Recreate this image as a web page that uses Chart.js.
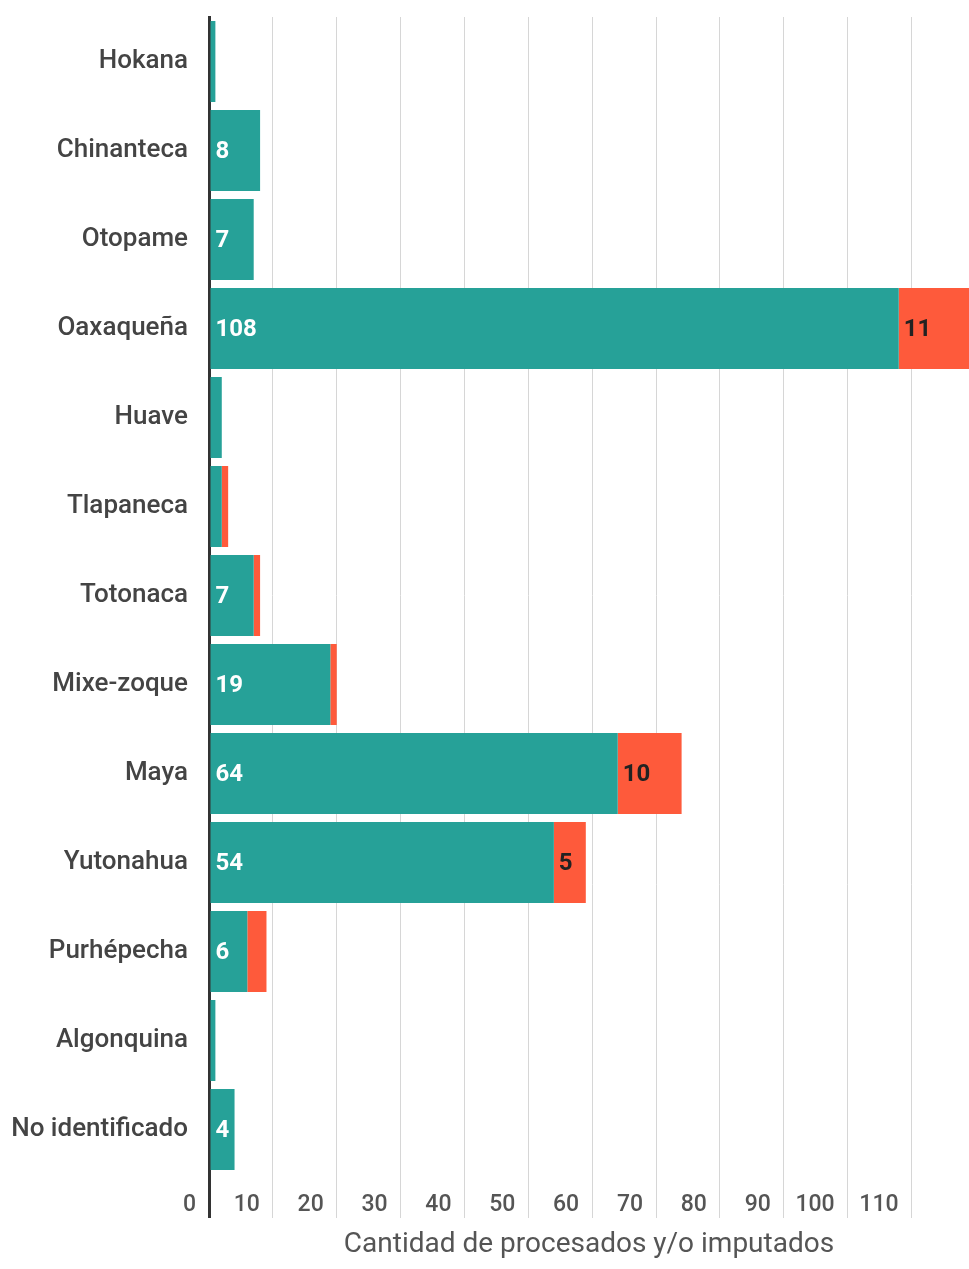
<!DOCTYPE html>
<html>
<head>
<meta charset="utf-8">
<script src="https://cdn.jsdelivr.net/npm/chart.js@4"></script>
<style>
  html, body { margin: 0; padding: 0; background: #fff; }
  #wrap { width: 969px; height: 1269px; }
</style>
</head>
<body>
<div id="wrap"><canvas id="barChart"></canvas></div>
<script>
var familias = ["Hokana", "Chinanteca", "Otopame", "Oaxaqueña", "Huave", "Tlapaneca", "Totonaca",
  "Mixe-zoque", "Maya", "Yutonahua", "Purhépecha", "Algonquina", "No identificado"];
var procesados = [1, 8, 7, 108, 2, 2, 7, 19, 64, 54, 6, 1, 4];
var imputados = [0, 0, 0, 11, 0, 1, 1, 1, 10, 5, 3, 0, 0];
var xTicks = [0, 10, 20, 30, 40, 50, 60, 70, 80, 90, 100, 110];
var xMax = 119;

var teal = "#26a198";
var red = "#fe5a3b";

// value labels at the start of each segment, only when they fit
const barLabels = {
  id: "barLabels",
  afterDatasetsDraw(chart) {
    const ctx = chart.ctx;
    ctx.save();
    ctx.font = "bold 24px Roboto";
    ctx.textBaseline = "middle";
    ctx.textAlign = "left";
    chart.data.datasets.forEach(function(ds, i) {
      chart.getDatasetMeta(i).data.forEach(function(bar, j) {
        const v = ds.data[j];
        if (!v) return;
        const txt = String(v);
        const w = Math.abs(bar.x - bar.base);
        if (w < ctx.measureText(txt).width + 8) return;
        ctx.fillStyle = i === 0 ? "#ffffff" : "#222222";
        ctx.fillText(txt, Math.min(bar.x, bar.base) + 5, bar.y + 1);
      });
    });
    ctx.restore();
  }
};

new Chart(document.getElementById("barChart"), {
  type: "bar",
  data: {
    labels: familias,
    datasets: [
      { label: "Procesados", data: procesados, backgroundColor: teal },
      { label: "Imputados", data: imputados, backgroundColor: red }
    ]
  },
  options: {
    indexAxis: "y",
    responsive: true,
    maintainAspectRatio: false,
    animation: false,
    categoryPercentage: 0.91,
    barPercentage: 1,
    layout: { padding: { top: 17, right: 0, bottom: 0, left: 0 } },
    plugins: {
      legend: { display: false },
      tooltip: { enabled: false }
    },
    scales: {
      x: {
        stacked: true,
        min: 0,
        max: xMax,
        afterBuildTicks: function(axis) {
          axis.ticks = xTicks.map(function(v) { return { value: v }; });
        },
        afterFit: function(axis) { axis.height = 95; },
        border: { display: false },
        grid: {
          color: function(c) { return c.tick && c.tick.value === 0 ? "#333333" : "#d6d6d6"; },
          lineWidth: function(c) { return c.tick && c.tick.value === 0 ? 3 : 1; },
          tickLength: 44
        },
        ticks: {
          align: "end",
          labelOffset: -13,
          padding: -27,
          color: "#555555",
          font: { family: "Roboto", size: 23, weight: "500" }
        },
        title: {
          display: true,
          text: "Cantidad de procesados y/o imputados",
          color: "#555555",
          font: { family: "Roboto", size: 28 },
          padding: { top: 0, bottom: 7 }
        }
      },
      y: {
        stacked: true,
        z: 1,
        afterFit: function(axis) {
          axis.width = 209;
          axis.paddingTop = 0;
          axis.paddingBottom = 0;
        },
        grid: { display: false, drawTicks: false },
        border: { display: true, color: "#333333", width: 3 },
        ticks: {
          padding: 21,
          color: "#444444",
          font: { family: "Roboto", size: 26, weight: "500" }
        }
      }
    }
  },
  plugins: [barLabels]
});
</script>
</body>
</html>
